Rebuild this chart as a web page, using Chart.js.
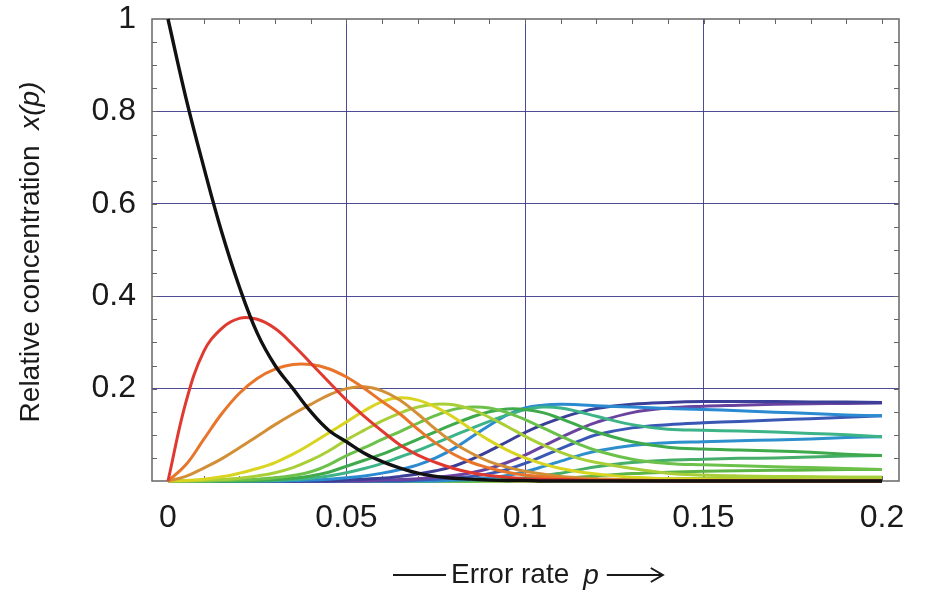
<!DOCTYPE html>
<html>
<head>
<meta charset="utf-8">
<script src="https://cdn.jsdelivr.net/npm/chart.js@4.4.1/dist/chart.umd.min.js"></script>
<style>
  html, body { margin: 0; padding: 0; background: #ffffff; }
  #wrap { width: 927px; height: 591px; }
</style>
</head>
<body>
<div id="wrap"><canvas id="c" width="927" height="591"></canvas></div>
<script>
// Error rate p (x values shared by every error class)
const errorRate = [0, 0.005, 0.01, 0.015, 0.02, 0.025, 0.03, 0.035, 0.04, 0.045, 0.05, 0.055, 0.06, 0.065, 0.07, 0.075, 0.08, 0.085, 0.09, 0.095, 0.1, 0.105, 0.11, 0.115, 0.12, 0.13, 0.14, 0.15, 0.16, 0.17, 0.18, 0.19, 0.2];

// Relative concentration of each error class
const class0  = [1, 0.83, 0.68, 0.54, 0.42, 0.32, 0.25, 0.2, 0.15, 0.11, 0.085, 0.06, 0.042, 0.028, 0.017, 0.01, 0.006, 0.004, 0.002, 0.001, 0.001, 0, 0, 0, 0, 0, 0, 0, 0, 0, 0, 0, 0];
const class1  = [0, 0.17, 0.28, 0.33, 0.352, 0.35, 0.33, 0.295, 0.255, 0.215, 0.175, 0.14, 0.108, 0.078, 0.056, 0.04, 0.027, 0.018, 0.012, 0.008, 0.005, 0.004, 0.003, 0.002, 0.001, 0, 0, 0, 0, 0, 0, 0, 0];
const class2  = [0, 0.035, 0.09, 0.145, 0.19, 0.222, 0.242, 0.252, 0.252, 0.243, 0.225, 0.2, 0.172, 0.145, 0.112, 0.082, 0.058, 0.04, 0.028, 0.019, 0.013, 0.009, 0.006, 0.004, 0.003, 0.001, 0, 0, 0, 0, 0, 0, 0];
const class3  = [0, 0.01, 0.028, 0.048, 0.072, 0.097, 0.122, 0.145, 0.166, 0.186, 0.2, 0.204, 0.195, 0.175, 0.145, 0.112, 0.083, 0.06, 0.042, 0.03, 0.021, 0.015, 0.01, 0.007, 0.005, 0.002, 0.001, 0, 0, 0, 0, 0, 0];
const class4  = [0, 0.001, 0.004, 0.009, 0.017, 0.027, 0.04, 0.058, 0.08, 0.104, 0.128, 0.152, 0.172, 0.18, 0.175, 0.16, 0.138, 0.112, 0.088, 0.067, 0.05, 0.037, 0.027, 0.02, 0.015, 0.008, 0.005, 0.003, 0.002, 0.001, 0.001, 0.001, 0.001];
const class5  = [0, 0, 0.001, 0.003, 0.006, 0.011, 0.018, 0.029, 0.045, 0.065, 0.089, 0.11, 0.13, 0.147, 0.16, 0.166, 0.165, 0.155, 0.138, 0.118, 0.097, 0.078, 0.062, 0.049, 0.04, 0.027, 0.017, 0.013, 0.011, 0.01, 0.009, 0.008, 0.008];
const class6  = [0, 0, 0, 0.001, 0.002, 0.004, 0.007, 0.012, 0.02, 0.035, 0.055, 0.072, 0.09, 0.107, 0.125, 0.142, 0.155, 0.16, 0.158, 0.148, 0.133, 0.115, 0.097, 0.08, 0.066, 0.047, 0.038, 0.035, 0.033, 0.031, 0.029, 0.027, 0.025];
const class7  = [0, 0, 0, 0, 0, 0.001, 0.003, 0.006, 0.011, 0.019, 0.032, 0.045, 0.058, 0.074, 0.09, 0.107, 0.123, 0.138, 0.15, 0.156, 0.155, 0.148, 0.135, 0.12, 0.106, 0.085, 0.073, 0.069, 0.067, 0.065, 0.062, 0.058, 0.055];
const class8  = [0, 0, 0, 0, 0, 0, 0.001, 0.003, 0.006, 0.011, 0.018, 0.027, 0.038, 0.052, 0.066, 0.082, 0.098, 0.114, 0.129, 0.143, 0.154, 0.16, 0.158, 0.15, 0.14, 0.122, 0.112, 0.11, 0.108, 0.106, 0.103, 0.1, 0.096];
const class9  = [0, 0, 0, 0, 0, 0, 0, 0.001, 0.002, 0.004, 0.007, 0.011, 0.017, 0.025, 0.035, 0.05, 0.07, 0.095, 0.12, 0.143, 0.158, 0.164, 0.166, 0.165, 0.163, 0.16, 0.157, 0.155, 0.152, 0.149, 0.146, 0.143, 0.141];
const class10 = [0, 0, 0, 0, 0, 0, 0, 0, 0, 0, 0.002, 0.004, 0.006, 0.01, 0.015, 0.022, 0.032, 0.047, 0.065, 0.085, 0.105, 0.122, 0.136, 0.148, 0.157, 0.166, 0.17, 0.172, 0.172, 0.172, 0.171, 0.171, 0.17];
const class11 = [0, 0, 0, 0, 0, 0, 0, 0, 0, 0, 0, 0, 0.002, 0.003, 0.005, 0.008, 0.012, 0.018, 0.027, 0.04, 0.056, 0.075, 0.094, 0.112, 0.127, 0.148, 0.158, 0.162, 0.164, 0.166, 0.167, 0.168, 0.169];
const class12 = [0, 0, 0, 0, 0, 0, 0, 0, 0, 0, 0, 0, 0, 0, 0.002, 0.004, 0.006, 0.01, 0.016, 0.025, 0.038, 0.054, 0.07, 0.086, 0.1, 0.115, 0.122, 0.126, 0.129, 0.132, 0.135, 0.138, 0.141];
const class13 = [0, 0, 0, 0, 0, 0, 0, 0, 0, 0, 0, 0, 0, 0, 0, 0, 0.002, 0.004, 0.007, 0.012, 0.02, 0.031, 0.043, 0.055, 0.065, 0.077, 0.083, 0.085, 0.087, 0.089, 0.091, 0.094, 0.096];
const class14 = [0, 0, 0, 0, 0, 0, 0, 0, 0, 0, 0, 0, 0, 0, 0, 0, 0, 0, 0.002, 0.004, 0.007, 0.011, 0.017, 0.024, 0.031, 0.04, 0.045, 0.047, 0.049, 0.05, 0.052, 0.054, 0.055];
const class15 = [0, 0, 0, 0, 0, 0, 0, 0, 0, 0, 0, 0, 0, 0, 0, 0, 0, 0, 0, 0, 0.002, 0.003, 0.005, 0.008, 0.011, 0.016, 0.019, 0.021, 0.022, 0.023, 0.024, 0.025, 0.025];
const class16 = [0, 0, 0, 0, 0, 0, 0, 0, 0, 0, 0, 0, 0, 0, 0, 0, 0, 0, 0, 0, 0, 0, 0.001, 0.001, 0.002, 0.004, 0.005, 0.006, 0.007, 0.007, 0.008, 0.008, 0.008];
const class17 = [0, 0, 0, 0, 0, 0, 0, 0, 0, 0, 0, 0, 0, 0, 0, 0, 0, 0, 0, 0, 0, 0, 0, 0, 0, 0.001, 0.001, 0.001, 0.002, 0.002, 0.002, 0.002, 0.002];

// Axis ticks
const xTicks = [0, 0.05, 0.1, 0.15, 0.2];
const yTicks = [0.2, 0.4, 0.6, 0.8, 1];

const classSeries = [class0, class1, class2, class3, class4, class5, class6, class7, class8,
  class9, class10, class11, class12, class13, class14, class15, class16, class17];
const classColors = ['#111111', '#e0392f', '#e8752a', '#d38f36', '#d9d420', '#a9cf38', '#6cc14a', '#3eaa4b',
  '#3db488', '#2b8ad0', '#3b3f98', '#6a43a1', '#3957b4', '#2e8fcd', '#46ae68', '#5db545', '#a9cc33', '#d4d22a'];

const FONT = '"Liberation Sans", Arial, Helvetica, sans-serif';
const GRID = 'rgba(58, 58, 140, 0.9)';
const FRAME = '#666666';

const datasets = classSeries.map((vals, k) => ({
  label: 'class ' + k,
  data: errorRate.map((p, i) => ({ x: p, y: vals[i] })),
  borderColor: classColors[k],
  borderWidth: k === 0 ? 3.4 : 3,
  pointRadius: 0,
  fill: false,
  tension: 0.4,
  clip: false
}));

// Frame, inward minor ticks and the two axis titles
const decorations = {
  id: 'decorations',
  beforeDatasetsDraw(chart) {
    const { ctx, chartArea: a, scales: { x, y } } = chart;
    ctx.save();
    ctx.strokeStyle = FRAME;
    ctx.lineWidth = 1.5;
    ctx.strokeRect(a.left, a.top, a.right - a.left, a.bottom - a.top);
    ctx.lineWidth = 1;
    ctx.beginPath();
    for (let i = 1; i < 20; i++) {
      const py = Math.round(y.getPixelForValue(i * 0.05)) + 0.5;
      ctx.moveTo(a.left, py); ctx.lineTo(a.left + 5, py);
      ctx.moveTo(a.right, py); ctx.lineTo(a.right - 5, py);
    }
    for (let i = 0; i <= 20; i++) {
      const px = Math.round(x.getPixelForValue(i * 0.01)) + 0.5;
      ctx.moveTo(px, a.top); ctx.lineTo(px, a.top + 5);
      ctx.moveTo(px, a.bottom); ctx.lineTo(px, a.bottom - 5);
    }
    ctx.stroke();
    ctx.restore();
  },
  afterDraw(chart) {
    const ctx = chart.ctx;
    ctx.save();
    ctx.fillStyle = '#1a1a1a';
    ctx.textBaseline = 'middle';

    // y title, rotated
    const regular = '28px ' + FONT;
    const italic = 'italic 28px ' + FONT;
    const parts = [['Relative concentration  ', regular], ['x(p)', italic]];
    ctx.translate(31, 252);
    ctx.rotate(-Math.PI / 2);
    let total = 0;
    parts.forEach(([t, f]) => { ctx.font = f; total += ctx.measureText(t).width; });
    let cx = -total / 2;
    ctx.textAlign = 'left';
    parts.forEach(([t, f]) => { ctx.font = f; ctx.fillText(t, cx, 0); cx += ctx.measureText(t).width; });
    ctx.setTransform(1, 0, 0, 1, 0, 0);

    // x title with leading rule and trailing arrow
    const ty = 575;
    ctx.strokeStyle = '#1a1a1a';
    ctx.lineWidth = 2;
    ctx.beginPath(); ctx.moveTo(393, ty); ctx.lineTo(446, ty); ctx.stroke();
    ctx.font = regular;
    ctx.fillText('Error rate', 451, ty);
    const w = ctx.measureText('Error rate').width;
    ctx.font = italic;
    const px = 451 + w + 14;
    ctx.fillText('p', px, ty + 1);
    const ax = px + ctx.measureText('p').width + 8;
    ctx.beginPath(); ctx.moveTo(ax, ty); ctx.lineTo(ax + 55, ty); ctx.stroke();
    ctx.beginPath();
    ctx.moveTo(ax + 44, ty - 7); ctx.lineTo(ax + 56, ty); ctx.lineTo(ax + 44, ty + 7);
    ctx.stroke();
    ctx.restore();
  }
};

new Chart(document.getElementById('c'), {
  type: 'line',
  data: { datasets },
  options: {
    responsive: false,
    animation: false,
    devicePixelRatio: 1,
    layout: { padding: { left: 0, top: 19, right: 28, bottom: 0 } },
    plugins: { legend: { display: false }, tooltip: { enabled: false } },
    scales: {
      x: {
        type: 'linear',
        min: -0.00448,
        max: 0.20476,
        afterBuildTicks: s => { s.ticks = xTicks.map(v => ({ value: v })); },
        afterFit: s => { s.height = 110; s.paddingLeft = 0; s.paddingRight = 0; },
        grid: {
          drawTicks: false,
          lineWidth: 1,
          color: c => (c.tick && (c.tick.value === 0 || c.tick.value === 0.2)) ? 'rgba(0,0,0,0)' : GRID
        },
        border: { display: false },
        ticks: {
          padding: 18,
          color: '#1a1a1a',
          font: { family: FONT, size: 32 },
          callback: v => String(Number(v.toFixed(2)))
        }
      },
      y: {
        type: 'linear',
        min: 0,
        max: 1,
        afterBuildTicks: s => { s.ticks = yTicks.map(v => ({ value: v })); },
        afterFit: s => { s.width = 152; s.paddingTop = 0; s.paddingBottom = 0; },
        grid: {
          drawTicks: false,
          lineWidth: 1,
          color: c => (c.tick && c.tick.value === 1) ? 'rgba(0,0,0,0)' : GRID
        },
        border: { display: false },
        ticks: {
          padding: 16,
          color: '#1a1a1a',
          font: { family: FONT, size: 32 },
          callback: v => String(Number(v.toFixed(2)))
        }
      }
    }
  },
  plugins: [decorations]
});
</script>
</body>
</html>
